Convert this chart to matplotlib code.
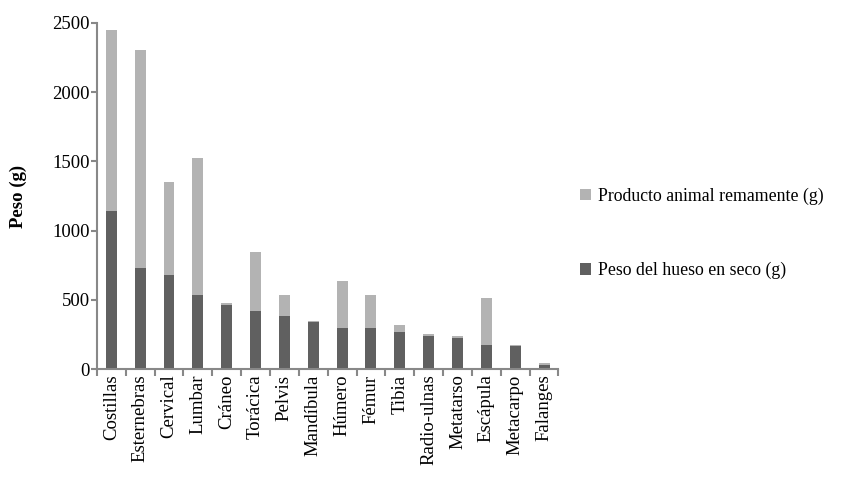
import matplotlib
matplotlib.use("Agg")
import matplotlib.pyplot as plt
import numpy as np

categories = ["Costillas", "Esternebras", "Cervical", "Lumbar", "Cráneo", "Torácica",
              "Pelvis", "Mandíbula", "Húmero", "Fémur", "Tibia", "Radio-ulnas",
              "Metatarso", "Escápula", "Metacarpo", "Falanges"]
peso_seco = [1145, 732, 680, 535, 465, 420, 380, 342, 297, 297, 268, 237, 225, 175, 165, 30]
total = [2448, 2303, 1348, 1521, 474, 843, 536, 350, 638, 535, 321, 250, 238, 516, 174, 42]
remanente = [t - s for t, s in zip(total, peso_seco)]
yticks = [0, 500, 1000, 1500, 2000, 2500]

plt.rcParams['font.family'] = ['Liberation Serif', 'DejaVu Serif']
FS = 13.5
LFS = 12.8

fig = plt.figure(figsize=(8.5, 4.84), dpi=100)
ax = fig.add_axes([0.114, 0.2376, 0.543, 0.715])

x = np.arange(len(categories))
dark = "#606060"
light = "#b3b3b3"
b1 = ax.bar(x, peso_seco, width=0.38, color=dark, label="Peso del hueso en seco (g)")
b2 = ax.bar(x, remanente, bottom=peso_seco, width=0.38, color=light,
            label="Producto animal remamente (g)")

ax.set_xlim(-0.5, len(categories) - 0.5)
ax.set_ylim(0, 2500)
ax.set_yticks(yticks)
ax.set_yticklabels([str(v) for v in yticks], fontsize=FS)
ax.set_xticks(x)
ax.set_xticklabels(categories, rotation=90, fontsize=FS)
ax.tick_params(axis='x', length=0, pad=4)
ax.set_xticks(np.arange(-0.5, len(categories)), minor=True)
ax.tick_params(axis='x', which='minor', length=5, width=1.5, color="#888888", direction='out')
ax.tick_params(axis='y', length=4, width=1.5, color="#888888", direction='out', pad=1)

for s in ["top", "right"]:
    ax.spines[s].set_visible(False)
for s in ["left", "bottom"]:
    ax.spines[s].set_color("#888888")
    ax.spines[s].set_linewidth(1.5)

ax.set_ylabel("Peso (g)", fontsize=FS, fontweight='bold', labelpad=18)

fig.legend(handles=[b2, b1], labels=["Producto animal remamente (g)", "Peso del hueso en seco (g)"],
           loc="upper left", bbox_to_anchor=(0.664, 0.645), frameon=False, fontsize=LFS,
           labelspacing=3.2, handlelength=0.6, handleheight=0.6, handletextpad=0.4)

fig.savefig("out.png", dpi=100)
